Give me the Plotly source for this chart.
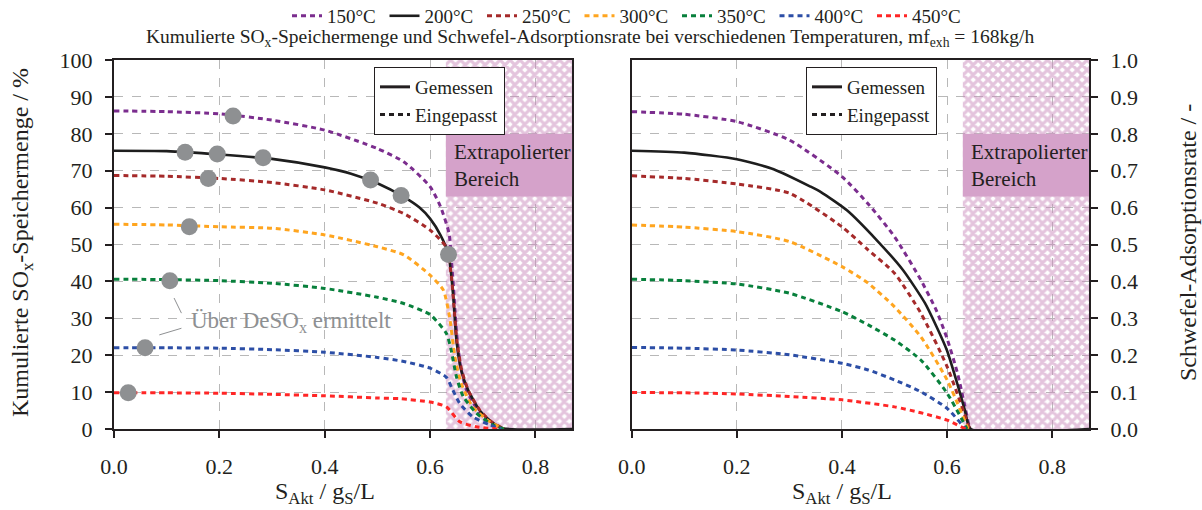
import plotly.graph_objects as go

# ---------------- data ----------------
temps = ["150°C", "200°C", "250°C", "300°C", "350°C", "400°C", "450°C"]
colors = ["#7b2d8e", "#1e1e1e", "#a52a2a", "#ffa51f", "#08803c", "#2c4ea6", "#ff2626"]

# cumulated SOx storage (%) over S_Akt (g_S/L)
store_x_150 = [0, 0.1, 0.2, 0.3, 0.4, 0.5, 0.55, 0.6, 0.62, 0.636, 0.641, 0.646, 0.651, 0.658, 0.668, 0.682, 0.70, 0.72, 0.74]
store_y_150 = [86.2, 86.0, 85.4, 83.7, 81.0, 76.0, 72.4, 65.7, 60.2, 53.0, 45.0, 35.0, 25.0, 17.0, 11.0, 7.0, 3.5, 1.3, 0]
store_x_200 = [0, 0.1, 0.2, 0.3, 0.4, 0.45, 0.5, 0.55, 0.58, 0.6, 0.62, 0.635, 0.644, 0.650, 0.659, 0.672, 0.694, 0.716, 0.738, 0.87]
store_y_200 = [75.4, 75.3, 74.4, 73.2, 70.9, 69.2, 66.6, 62.9, 60.0, 57.0, 52.5, 47.3, 35.9, 24.1, 16.0, 10.6, 5.1, 2.0, 0.2, 0]
store_x_250 = [0, 0.1, 0.2, 0.3, 0.4, 0.5, 0.55, 0.6, 0.63, 0.64, 0.645, 0.651, 0.66, 0.673, 0.695, 0.717, 0.74]
store_y_250 = [68.7, 68.5, 67.9, 66.8, 64.8, 61.2, 58.4, 53.9, 49.4, 42.0, 34.0, 24.0, 16.0, 10.3, 5.0, 1.9, 0]
store_x_300 = [0, 0.1, 0.2, 0.3, 0.4, 0.5, 0.55, 0.6, 0.625, 0.637, 0.647, 0.659, 0.681, 0.713, 0.74]
store_y_300 = [55.5, 55.3, 54.8, 54.4, 52.6, 49.4, 47.2, 41.7, 37.7, 30.4, 19.6, 12.4, 6.0, 2.0, 0]
store_x_350 = [0, 0.1, 0.2, 0.3, 0.4, 0.5, 0.55, 0.6, 0.631, 0.640, 0.650, 0.663, 0.688, 0.719, 0.74]
store_y_350 = [40.6, 40.5, 40.2, 39.5, 38.1, 35.7, 34.0, 31.0, 25.9, 21.4, 14.2, 8.8, 4.3, 1.1, 0]
store_x_400 = [0, 0.1, 0.2, 0.3, 0.4, 0.5, 0.55, 0.6, 0.631, 0.643, 0.656, 0.681, 0.713, 0.735]
store_y_400 = [22.0, 22.0, 21.9, 21.5, 20.8, 19.4, 18.3, 16.5, 14.0, 10.6, 7.0, 3.3, 1.1, 0]
store_x_450 = [0, 0.1, 0.2, 0.3, 0.4, 0.5, 0.544, 0.6, 0.631, 0.656, 0.688, 0.73]
store_y_450 = [9.85, 9.8, 9.7, 9.4, 9.0, 8.4, 8.2, 7.3, 6.0, 2.0, 0.6, 0]

# sulphur adsorption rate (-) over S_Akt (g_S/L)
rate_x_150 = [0, 0.1, 0.2, 0.3, 0.4, 0.45, 0.5, 0.55, 0.58, 0.6, 0.62, 0.643]
rate_y_150 = [0.86, 0.853, 0.833, 0.783, 0.684, 0.61, 0.521, 0.404, 0.32, 0.245, 0.15, 0.0]
rate_x_200 = [0, 0.1, 0.2, 0.27, 0.34, 0.36, 0.41, 0.466, 0.516, 0.558, 0.58, 0.6, 0.62, 0.634, 0.645, 0.87]
rate_y_200 = [0.754, 0.749, 0.731, 0.704, 0.657, 0.642, 0.592, 0.512, 0.431, 0.341, 0.277, 0.212, 0.12, 0.05, 0.0, 0.0]
rate_x_250 = [0, 0.1, 0.2, 0.3, 0.4, 0.45, 0.5, 0.55, 0.6, 0.643]
rate_y_250 = [0.686, 0.679, 0.664, 0.639, 0.548, 0.485, 0.422, 0.314, 0.169, 0.0]
rate_x_300 = [0, 0.1, 0.2, 0.3, 0.4, 0.45, 0.5, 0.55, 0.6, 0.64]
rate_y_300 = [0.553, 0.547, 0.535, 0.508, 0.440, 0.395, 0.331, 0.250, 0.133, 0.0]
rate_x_350 = [0, 0.1, 0.2, 0.3, 0.4, 0.45, 0.5, 0.55, 0.6, 0.638]
rate_y_350 = [0.406, 0.402, 0.393, 0.368, 0.318, 0.282, 0.241, 0.187, 0.097, 0.0]
rate_x_400 = [0, 0.1, 0.2, 0.3, 0.4, 0.45, 0.5, 0.55, 0.6, 0.635]
rate_y_400 = [0.221, 0.219, 0.214, 0.201, 0.178, 0.160, 0.133, 0.101, 0.056, 0.0]
rate_x_450 = [0, 0.1, 0.2, 0.3, 0.4, 0.5, 0.55, 0.6, 0.635]
rate_y_450 = [0.099, 0.098, 0.095, 0.088, 0.079, 0.060, 0.044, 0.024, 0.0]

# storage amounts determined via DeSOx
desox_x = [0.226, 0.135, 0.196, 0.283, 0.487, 0.545, 0.635, 0.179, 0.143, 0.106, 0.059, 0.027]
desox_y = [84.8, 75.0, 74.5, 73.5, 67.5, 63.3, 47.3, 67.9, 54.8, 40.2, 22.0, 9.8]

extrap_start = 0.63
x_max = 0.87

store_x = [store_x_150, store_x_200, store_x_250, store_x_300, store_x_350, store_x_400, store_x_450]
store_y = [store_y_150, store_y_200, store_y_250, store_y_300, store_y_350, store_y_400, store_y_450]
rate_x = [rate_x_150, rate_x_200, rate_x_250, rate_x_300, rate_x_350, rate_x_400, rate_x_450]
rate_y = [rate_y_150, rate_y_200, rate_y_250, rate_y_300, rate_y_350, rate_y_400, rate_y_450]

FONT = "Liberation Serif"
INK = "#231f20"
PINK = "#d5a2ca"
HATCH = "#c98abb"
GRID = "#b8b8b8"
GREY = "#8e9092"

fig = go.Figure()

# hatched extrapolated region in both panels
for xa, ya, ytop in [("x", "y", 100), ("x2", "y2", 1.0)]:
    fig.add_trace(go.Scatter(
        x=[extrap_start, x_max, x_max, extrap_start, extrap_start],
        y=[0, 0, ytop, ytop, 0],
        xaxis=xa, yaxis=ya, mode="lines", fill="toself",
        fillcolor="rgba(0,0,0,0)",
        fillpattern=dict(shape="x", fgcolor=HATCH, bgcolor="rgba(0,0,0,0)",
                         size=7, solidity=0.7),
        line=dict(width=0), showlegend=False, hoverinfo="skip"))


def line_style(i):
    if temps[i] == "200°C":
        return dict(color=colors[i], width=2.6)
    return dict(color=colors[i], width=3, dash="5px,4px")


# storage curves (left) and adsorption rate curves (right)
for i, t in enumerate(temps):
    fig.add_trace(go.Scatter(
        x=store_x[i], y=store_y[i], xaxis="x", yaxis="y", mode="lines",
        line=dict(**line_style(i), shape="spline", smoothing=0.6),
        name=t, legendgroup=t, legend="legend", showlegend=True))
    fig.add_trace(go.Scatter(
        x=rate_x[i], y=rate_y[i], xaxis="x2", yaxis="y2", mode="lines",
        line=dict(**line_style(i), shape="spline", smoothing=0.6),
        name=t, legendgroup=t, showlegend=False))

# DeSOx points
fig.add_trace(go.Scatter(
    x=desox_x, y=desox_y, xaxis="x", yaxis="y", mode="markers",
    marker=dict(size=17, color=GREY), showlegend=False,
    name="Über DeSOx ermittelt"))

# measured / fitted key in each panel
for leg, xa, ya in [("legend2", "x", "y"), ("legend3", "x2", "y2")]:
    fig.add_trace(go.Scatter(x=[None], y=[None], xaxis=xa, yaxis=ya, mode="lines",
                             line=dict(color=INK, width=3), name="Gemessen", legend=leg))
    fig.add_trace(go.Scatter(x=[None], y=[None], xaxis=xa, yaxis=ya, mode="lines",
                             line=dict(color=INK, width=3, dash="5px,4px"),
                             name="Eingepasst", legend=leg))

axis_common = dict(
    showline=True, linecolor=INK, linewidth=2, mirror=True,
    ticks="outside", ticklen=7, tickwidth=1.5, tickcolor=INK,
    showgrid=True, gridcolor=GRID, griddash="dash", gridwidth=1,
    zeroline=False, automargin=False,
    tickfont=dict(family=FONT, size=22, color=INK),
)

xdom1 = [114 / 1202, 572.3 / 1202]
xdom2 = [631.7 / 1202, 1089 / 1202]
ydom = [81 / 510, 450 / 510]

fig.update_layout(
    width=1202, height=510,
    margin=dict(l=0, r=0, t=0, b=0, autoexpand=False),
    paper_bgcolor="white", plot_bgcolor="white",
    font=dict(family=FONT, color=INK),
    xaxis=dict(domain=xdom1, range=[0, x_max], tickvals=[0, 0.2, 0.4, 0.6, 0.8],
               tickformat=".1f", anchor="y", ticklabelstandoff=10, **axis_common),
    yaxis=dict(domain=ydom, range=[0, 100], dtick=10, anchor="x",
               ticklabelstandoff=8, **axis_common),
    xaxis2=dict(domain=xdom2, range=[0, x_max], tickvals=[0, 0.2, 0.4, 0.6, 0.8],
                tickformat=".1f", anchor="y2", ticklabelstandoff=10, **axis_common),
    yaxis2=dict(domain=ydom, range=[0, 1.0], dtick=0.1, tickformat=".1f",
                anchor="x2", side="right", ticklabelstandoff=8, **axis_common),
    legend=dict(orientation="h", x=287 / 1202, xanchor="left", y=1.006, yanchor="top",
                font=dict(family=FONT, size=19, color=INK), itemwidth=30,
                entrywidth=52.5, bgcolor="rgba(0,0,0,0)"),
    legend2=dict(x=374 / 1202, xanchor="left", y=1 - 67 / 510, yanchor="top",
                 font=dict(family=FONT, size=19, color=INK), itemwidth=30,
                 bgcolor="white", bordercolor=INK, borderwidth=1, tracegroupgap=0),
    legend3=dict(x=806 / 1202, xanchor="left", y=1 - 67 / 510, yanchor="top",
                 font=dict(family=FONT, size=19, color=INK), itemwidth=30,
                 bgcolor="white", bordercolor=INK, borderwidth=1, tracegroupgap=0),
    showlegend=True,
)

# label boxes of the extrapolated region (opaque, over the hatching)
for xr, yr, y0, y1, ytxt in [("x", "y", 63, 80, 71.5), ("x2", "y2", 0.63, 0.80, 0.715)]:
    fig.add_shape(type="rect", xref=xr, yref=yr, x0=extrap_start, x1=x_max,
                  y0=y0, y1=y1, fillcolor=PINK, line=dict(width=0), layer="above")
    fig.add_annotation(xref=xr, yref=yr, x=extrap_start + 0.012, y=ytxt,
                       xanchor="left", yanchor="middle", align="left", showarrow=False,
                       text="Extrapolierter<br>Bereich",
                       font=dict(family=FONT, size=21, color=INK))

# DeSOx note with leader lines
fig.add_annotation(xref="x", yref="y", x=0.143, y=29.0, xanchor="left", yanchor="middle",
                   showarrow=False, text="Über DeSO<sub>x</sub> ermittelt",
                   font=dict(family=FONT, size=23, color=GREY))
for (xa, ya, xb, yb) in [(0.114, 35.5, 0.128, 31.4), (0.086, 25.5, 0.128, 27.3)]:
    fig.add_shape(type="line", xref="x", yref="y", x0=xa, y0=ya, x1=xb, y1=yb,
                  line=dict(color=GREY, width=1))

# title
fig.add_annotation(xref="paper", yref="paper", x=590 / 1202, y=1 - 38 / 510,
                   xanchor="center", yanchor="middle", showarrow=False,
                   text="Kumulierte SO<sub>x</sub>-Speichermenge und Schwefel-Adsorptionsrate "
                        "bei verschiedenen Temperaturen, mf<sub>exh</sub> = 168kg/h",
                   font=dict(family=FONT, size=19.5, color=INK))

# axis titles
for xr in ["x", "x2"]:
    fig.add_annotation(xref=xr, yref="paper", x=0.4, y=1 - 493 / 510,
                       xanchor="center", yanchor="middle", showarrow=False,
                       text="S<sub>Akt</sub> / g<sub>S</sub>/L",
                       font=dict(family=FONT, size=24, color=INK))
fig.add_annotation(xref="paper", yref="paper", x=22 / 1202, y=1 - 243 / 510,
                   xanchor="center", yanchor="middle", showarrow=False, textangle=-90,
                   text="Kumulierte SO<sub>x</sub>-Speichermenge / %",
                   font=dict(family=FONT, size=24, color=INK))
fig.add_annotation(xref="paper", yref="paper", x=1188 / 1202, y=1 - 243 / 510,
                   xanchor="center", yanchor="middle", showarrow=False, textangle=-90,
                   text="Schwefel-Adsorptionsrate / -",
                   font=dict(family=FONT, size=24, color=INK))

fig.write_html("out.html")
